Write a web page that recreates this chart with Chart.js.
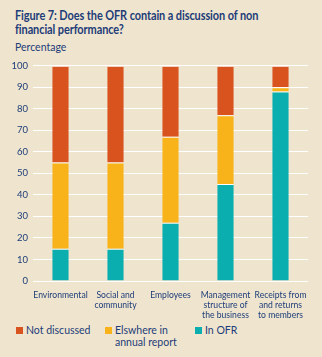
<!DOCTYPE html>
<html>
<head>
<meta charset="utf-8">
<script src="https://cdn.jsdelivr.net/npm/chart.js@4"></script>
<style>
    body { margin: 0; background: #efe5cf; width: 322px; height: 357px; overflow: hidden; position: relative; font-family: Lato, sans-serif; color: #1d3c78; }
    #title { position: absolute; left: 15px; top: 9px; font-size: 12.6px; font-weight: bold; letter-spacing: -0.1px; line-height: 14px; white-space: nowrap; transform: scaleX(0.87); transform-origin: left top; }
    #unit { position: absolute; left: 15px; top: 41px; font-size: 10.5px; }
    #wrap { position: absolute; left: 0; top: 55px; width: 322px; height: 265px; }
    .leg { position: absolute; top: 324px; font-size: 10.5px; line-height: 12px; }
    .leg span { position: absolute; left: -10px; top: 3px; width: 7px; height: 7px; }
</style>
</head>
<body>
<div id="title">Figure 7: Does the OFR contain a discussion of non<br>financial performance?</div>
<div id="unit">Percentage</div>
<div id="wrap"><canvas id="chart"></canvas></div>
<div class="leg" style="left:26px"><span style="background:#d9531e"></span>Not discussed</div>
<div class="leg" style="left:115px"><span style="background:#f8b31a"></span>Elswhere in<br>annual report</div>
<div class="leg" style="left:205px"><span style="background:#0aaeae"></span>In OFR</div>
<script>
const categories = [
    ['Environmental'],
    ['Social and', 'community'],
    ['Employees'],
    ['Management', 'structure of', 'the business'],
    ['Receipts from', 'and returns', 'to members']
];
const inOFR = [15, 15, 27, 45, 88];
const elsewhere = [40, 40, 40, 32, 2];
const notDiscussed = [45, 45, 33, 23, 10];
const yTicks = [0, 10, 20, 30, 40, 50, 60, 70, 80, 90, 100];

const navy = '#1d3c78';

function makeSet(label, data, color) {
    return {
        label: label,
        data: data,
        backgroundColor: color,
        borderColor: '#ffffff',
        borderWidth: { top: 1 },
        borderSkipped: false,
        barPercentage: 0.3,
        categoryPercentage: 1
    };
}

new Chart(document.getElementById('chart'), {
    type: 'bar',
    data: {
        labels: categories,
        datasets: [
            makeSet('In OFR', inOFR, '#0aaeae'),
            makeSet('Elswhere in annual report', elsewhere, '#f8b31a'),
            makeSet('Not discussed', notDiscussed, '#d9531e')
        ]
    },
    options: {
        responsive: true,
        maintainAspectRatio: false,
        animation: false,
        layout: { padding: { top: 10, right: 14, bottom: 0, left: 0 } },
        plugins: {
            legend: { display: false },
            tooltip: { enabled: false }
        },
        scales: {
            x: {
                stacked: true,
                grid: { display: false },
                border: { display: false },
                ticks: {
                    color: navy,
                    maxRotation: 0,
                    autoSkip: false,
                    padding: 1,
                    font: { family: 'Lato', size: 8.6, lineHeight: 1.15 }
                },
                afterFit: function (scale) { scale.height = 39; }
            },
            y: {
                stacked: true,
                min: 0,
                max: 100,
                afterBuildTicks: function (scale) {
                    scale.ticks = yTicks.map(v => ({ value: v }));
                },
                grid: { color: '#ffffff', lineWidth: 1, drawTicks: false },
                border: { display: false },
                ticks: {
                    color: navy,
                    padding: 5,
                    font: { family: 'Lato', size: 9.5 }
                },
                afterFit: function (scale) { scale.width = 33; }
            }
        }
    }
});
</script>
</body>
</html>
